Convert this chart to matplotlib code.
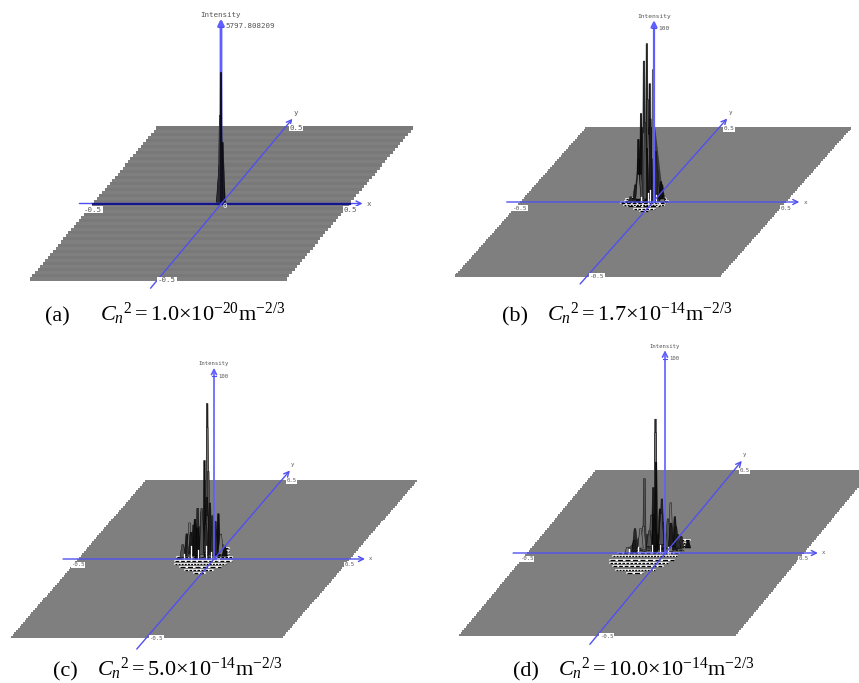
#!/usr/bin/env python3
import numpy as np
import matplotlib
matplotlib.use("Agg")
import matplotlib.pyplot as plt

plt.rcParams["mathtext.fontset"] = "custom"
plt.rcParams["mathtext.rm"] = "Liberation Serif"
plt.rcParams["mathtext.it"] = "Liberation Serif:italic"

# values: x, y in plane units, z in intensity units
a_pk_x = [-0.002, -0.004, 0.001, -0.003]
a_pk_y = [0.0, 0.0, 0.0, 0.0]
a_pk_z = [4291, 2890, 2000, 1250]
a_body = [-0.027, 0.013, 1100]
a_rows_y = [-0.006]
a_rows_x0 = [-0.02]
a_rows_x1 = [0.01]
a_spec_x = []
a_spec_z = []

b_pk_x = [-0.023, 0.0, -0.05, -0.025, -0.012, -0.034, -0.04, -0.059, 0.016, -0.071, 0.029, -0.015, -0.028, -0.046, -0.003, -0.084, 0.035, -0.055, -0.04, -0.02, 0.006, -0.065, 0.02]
b_pk_y = [0.0, 0.0, 0.01, 0.01, 0.0, 0.0, 0.01, 0.01, 0.0, 0.01, 0.01, 0.0, 0.01, 0.0, 0.01, 0.0, 0.0, 0.0, 0.02, 0.02, 0.01, 0.02, 0.02]
b_pk_z = [91, 76, 50, 58, 68, 81, 39, 24, 18, 9, 9, 39, 30, 16, 24, 3, 4, 36, 44, 46, 28, 14, 10]
b_body = [-0.078, 0.035, 42]
b_rows_y = [0.03, 0.02, 0.01, 0.0, -0.01, -0.02, -0.03, -0.045, -0.06]
b_rows_x0 = [-0.1, -0.11, -0.11, -0.12, -0.115, -0.1, -0.08, -0.05, -0.02]
b_rows_x1 = [0.03, 0.04, 0.05, 0.05, 0.05, 0.05, 0.04, 0.03, 0.01]
b_spec_x = [-0.02, -0.01, -0.045, 0.012]
b_spec_z = [5, 7, 3, 4]

c_pk_x = [-0.025, -0.025, -0.04, -0.026, -0.036, -0.07, -0.05, 0.006, -0.04, -0.11, -0.09, 0.023, -0.06, -0.017, -0.128, -0.01, -0.1, -0.08, -0.06, -0.03, -0.015, 0.01, 0.03, -0.12, -0.1, -0.05]
c_pk_y = [0.0, 0.0, 0.01, 0.01, 0.02, 0.02, 0.01, 0.02, 0.03, 0.02, 0.03, 0.02, 0.0, 0.01, 0.0, 0.03, 0.02, 0.02, 0.03, 0.03, 0.02, 0.03, 0.02, 0.01, 0.03, 0.04]
c_pk_z = [85, 72, 53, 47, 32, 26, 25, 23, 21, 12, 16, 6, 17, 12, 1, 18, 18, 20, 25, 28, 22, 11, 5, 7, 12, 16]
c_body = [-0.125, 0.045, 17]
c_rows_y = [0.07, 0.05, 0.03, 0.01, -0.01, -0.03, -0.05, -0.07, -0.09]
c_rows_x0 = [-0.04, -0.1, -0.13, -0.14, -0.14, -0.13, -0.1, -0.07, -0.03]
c_rows_x1 = [0.02, 0.03, 0.04, 0.06, 0.07, 0.06, 0.05, 0.03, 0.01]
c_spec_x = [-0.085, -0.06, -0.03, -0.01, -0.11]
c_spec_z = [7, 5, 7, 4, 3]

d_pk_x = [-0.036, -0.036, -0.039, -0.081, -0.054, -0.018, 0.014, -0.03, -0.066, 0.024, -0.125, -0.09, -0.048, -0.006, -0.113, 0.042, -0.137, 0.066, -0.078, 0.018, -0.024, -0.105, -0.06, -0.04, 0.0, 0.03]
d_pk_y = [0.0, 0.0, 0.01, 0.01, 0.02, 0.01, 0.01, 0.02, 0.03, 0.02, 0.03, 0.02, 0.01, 0.03, 0.0, 0.03, 0.0, 0.03, 0.04, 0.04, 0.03, 0.03, 0.04, 0.05, 0.04, 0.03]
d_pk_z = [69, 62, 46, 37.5, 32, 27, 25, 21, 17, 17, 10, 12, 19, 15, 6.5, 6, 3, 4, 8, 10, 13, 10, 14, 16, 12, 7]
d_body = [-0.15, 0.065, 9]
d_rows_y = [0.08, 0.06, 0.04, 0.02, 0.0, -0.02, -0.04, -0.06, -0.08, -0.1, -0.12]
d_rows_x0 = [-0.05, -0.08, -0.12, -0.15, -0.17, -0.18, -0.18, -0.17, -0.15, -0.13, -0.08]
d_rows_x1 = [0.05, 0.05, 0.05, 0.05, 0.05, 0.05, 0.05, 0.04, 0.03, 0.01, -0.02]
d_spec_x = [-0.1, -0.05, -0.02, -0.13, 0.01]
d_spec_z = [3, 4, 4, 2, 3]

z_ticks = [5797.808209, 100, 100, 100]
z_tick_labels = ["5797.808209", "100", "100", "100"]
xy_tick_labels = ["-0.5", "0.5"]
captions = [
    r"$C_n{}^{\mathrm{2}}\mathrm{=1.0}{\times}\mathrm{10^{-20}m^{-2/3}}$",
    r"$C_n{}^{\mathrm{2}}\mathrm{=1.7}{\times}\mathrm{10^{-14}m^{-2/3}}$",
    r"$C_n{}^{\mathrm{2}}\mathrm{=5.0}{\times}\mathrm{10^{-14}m^{-2/3}}$",
    r"$C_n{}^{\mathrm{2}}\mathrm{=10.0}{\times}\mathrm{10^{-14}m^{-2/3}}$",
]
caption_tags = ["(a)", "(b)", "(c)", "(d)"]

# layout in figure pixels
layouts = [
    dict(org=(221.5, 203.5), ex=(257, 0), ey=(129, -154), zpx=177, rows=50, axis=(0.553, 0.549, 0.55, 0.55), zx=221,
         tag=(45, 321), cap=(100, 321), fs=5.4, zfs=5.4, stripes=True, xcol="#14148c", xlw=1.6, zlw=2.0, zz=4.5),
    dict(org=(653, 202), ex=(266, 0), ey=(132.5, -149), zpx=174, rows=75, axis=(0.55, 0.55, 0.55, 0.56), zx=654,
         tag=(502, 321), cap=(547, 321), fs=4.3, zfs=4.5, stripes=False, xcol="#5a5af0", xlw=1.0, zlw=1.6, zz=8),
    dict(org=(214, 559), ex=(272, 0), ey=(135.5, -158), zpx=183, rows=80, axis=(0.555, 0.555, 0.57, 0.56), zx=214,
         tag=(53, 676), cap=(97, 676), fs=4.1, zfs=4.1, stripes=False, xcol="#5a5af0", xlw=1.0, zlw=1.2, zz=8),
    dict(org=(665.5, 553), ex=(277, 0), ey=(137.5, -166), zpx=194, rows=83, axis=(0.55, 0.55, 0.55, 0.555), zx=665,
         tag=(513, 676), cap=(558, 676), fs=4.1, zfs=4.1, stripes=False, xcol="#5a5af0", xlw=1.0, zlw=1.2, zz=8),
]

peaks = [(a_pk_x, a_pk_y, a_pk_z), (b_pk_x, b_pk_y, b_pk_z), (c_pk_x, c_pk_y, c_pk_z), (d_pk_x, d_pk_y, d_pk_z)]
bodies = [a_body, b_body, c_body, d_body]
ripples = [(a_rows_y, a_rows_x0, a_rows_x1), (b_rows_y, b_rows_x0, b_rows_x1),
           (c_rows_y, c_rows_x0, c_rows_x1), (d_rows_y, d_rows_x0, d_rows_x1)]
specs = [(a_spec_x, a_spec_z), (b_spec_x, b_spec_z), (c_spec_x, c_spec_z), (d_spec_x, d_spec_z)]

BLUE = "#5050f0"
LABEL = "#555555"
SHADES = ["#2a2a2a", "#777777", "#101010", "#505050", "#1c1c1c"]
A_SHADES = ["#101028", "#5a5a5a", "#1a1a1a", "#333333"]
DASHES = [(3, 1.5), (1.5, 1), (4, 2), (2, 1.2)]


def project(lay, x, y, z=0.0, ztick=100.0):
    sx = lay["org"][0] + np.asarray(x) * lay["ex"][0] + np.asarray(y) * lay["ey"][0]
    sy = lay["org"][1] + np.asarray(y) * lay["ey"][1] - np.asarray(z) / ztick * lay["zpx"]
    return sx, sy


def draw_plane(ax, lay):
    # the mesh is drawn row by row, that gives the stepped edge
    n = lay["rows"]
    ys = np.linspace(-0.5, 0.5, n, endpoint=False) + 0.5 / n
    left, sy = project(lay, -0.5, ys)
    width = lay["ex"][0]
    h = abs(lay["ey"][1]) / n
    if lay["stripes"]:
        cols = ["#797979" if i % 2 else "#7f7f7f" for i in range(n)]
    else:
        cols = "#7f7f7f"
    ax.barh(sy, width, left=left, height=h * 1.02, color=cols, linewidth=0, zorder=1)


def draw_peaks(ax, lay, pk, body, rows, spec, ztick):
    ry, rx0, rx1 = rows
    for k, (y, x0, x1) in enumerate(zip(ry, rx0, rx1)):
        sx, sy = project(lay, [x0, x1], [y, y])
        ax.plot(sx, sy, color="white", lw=1.3, solid_capstyle="round", zorder=3)
        ax.plot(sx, sy, color="black", lw=0.9, dashes=DASHES[k % len(DASHES)], zorder=3.1)
    bx0, by = project(lay, body[0], 0.01)
    bx1, _ = project(lay, body[1], 0.01)
    mid = 0.5 * (bx0 + bx1)
    top = project(lay, 0.5 * (body[0] + body[1]), 0.01, body[2], ztick)[1]
    half = 0.22 * (bx1 - bx0)
    ax.fill([bx0, mid - half, mid + half, bx1], [by, top, top, by], color="#2a2a2a", lw=0, alpha=0.8, zorder=4)
    shades = SHADES if ztick == 100 else A_SHADES
    for i, (x, y, z) in enumerate(zip(*pk)):
        sx, sy0 = project(lay, x, y)
        _, sy1 = project(lay, x, y, z, ztick)
        if ztick == 100:
            w = 1.4 + 1.6 * (1 - min(z / ztick * 2.0, 1.0))
            top_w = 0.8
        else:
            # single peak: each shell of the cone is a bit wider
            w = 1.3 + i * 1.0
            top_w = 0.8 + i * 0.35
        ax.fill([sx - w, sx - top_w, sx + top_w, sx + w], [sy0, sy1, sy1, sy0], facecolor=shades[i % len(shades)],
                edgecolor="black", lw=0.3, zorder=5 - (i * 0.01 if ztick != 100 else -i * 0.01))
    # light flecks of the mesh near the base
    for x, z in zip(*spec):
        sx, sy0 = project(lay, x, 0.0)
        _, sy1 = project(lay, x, 0.0, z, ztick)
        ax.plot([sx, sx], [sy0, sy1], color="white", lw=0.9, zorder=6)


def arrow(ax, p0, p1, lw, col=BLUE, zorder=8):
    ax.annotate("", xy=p1, xytext=p0, zorder=zorder,
                arrowprops=dict(arrowstyle="->", color=col, lw=lw, shrinkA=0, shrinkB=0, mutation_scale=9))


def draw_axes(ax, lay, ztick, ztick_label):
    xn, xp, yn, yp = lay["axis"]
    ox, oy = lay["zx"], lay["org"][1]
    arrow(ax, project(lay, -xn, 0), project(lay, xp, 0), 1.0)
    if lay["xcol"] != "#5a5af0":
        ax.plot(*project(lay, [-0.5, 0.5], [0, 0]), color=lay["xcol"], lw=lay["xlw"], zorder=8)
    arrow(ax, project(lay, 0, -yn), project(lay, 0, yp), 1.0)
    ztop = oy - lay["zpx"] * 1.045
    arrow(ax, (ox, oy), (ox, ztop), lay["zlw"], "#5f5fff", lay["zz"])
    ty = oy - lay["zpx"]
    ax.plot([ox - 2, ox + 2], [ty, ty], color=BLUE, lw=0.8, zorder=8)
    ax.text(ox + 4, ty, ztick_label, fontsize=lay["zfs"], family="DejaVu Sans Mono", color=LABEL, va="center", ha="left", zorder=9)
    ax.text(ox, ztop - 4, "Intensity", fontsize=lay["zfs"], family="DejaVu Sans Mono", color=LABEL, va="center", ha="center", zorder=9)
    box = dict(facecolor="white", edgecolor="none", pad=0.4)
    for lab, v in zip(xy_tick_labels, (-0.5, 0.5)):
        sx, sy = project(lay, v, 0)
        ax.text(sx, sy + 6, lab, fontsize=lay["fs"], family="DejaVu Sans Mono", color=LABEL, va="center", ha="center", bbox=box, zorder=9)
        sx, sy = project(lay, 0, v)
        ax.text(sx + 10, sy + (1 if v > 0 else 0), lab, fontsize=lay["fs"], family="DejaVu Sans Mono", color=LABEL, va="center", ha="center", bbox=box, zorder=9)
    sx, sy = project(lay, xp, 0)
    ax.text(sx + 6, sy, "x", fontsize=lay["fs"], family="DejaVu Sans Mono", color=LABEL, va="center", ha="center", zorder=9)
    sx, sy = project(lay, 0, yp)
    ax.text(sx + 3, sy - 6, "y", fontsize=lay["fs"], family="DejaVu Sans Mono", color=LABEL, va="center", ha="center", zorder=9)
    ax.text(ox + 4, oy + 2, "0", fontsize=lay["fs"], family="DejaVu Sans Mono", color="white", va="center", ha="center", zorder=9)


fig = plt.figure(figsize=(8.59, 6.83), dpi=100)
ax = fig.add_axes([0, 0, 1, 1])
ax.set_xlim(0, 859)
ax.set_ylim(683, 0)
ax.axis("off")

for i, lay in enumerate(layouts):
    draw_plane(ax, lay)
    draw_peaks(ax, lay, peaks[i], bodies[i], ripples[i], specs[i], z_ticks[i])
    draw_axes(ax, lay, z_ticks[i], z_tick_labels[i])
    ax.text(*lay["tag"], caption_tags[i], fontsize=16, family="Liberation Serif", va="baseline", ha="left", color="black")
    ax.text(*lay["cap"], captions[i], fontsize=16, va="baseline", ha="left", color="black")

fig.savefig("out.png", dpi=100)
